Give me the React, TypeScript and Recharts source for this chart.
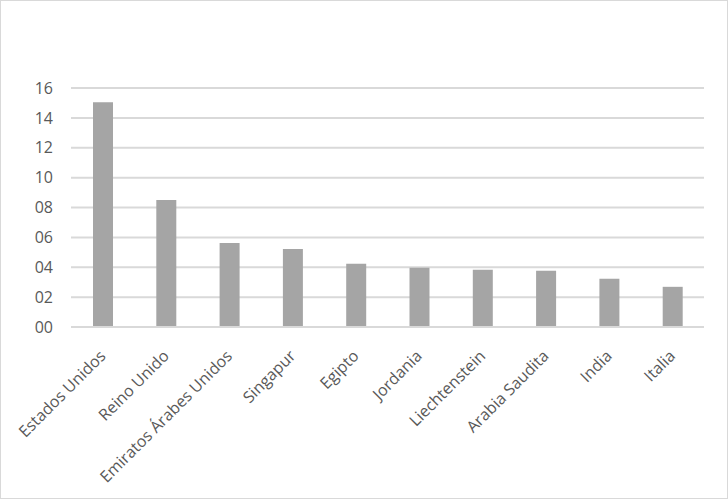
import { BarChart, Bar, XAxis, YAxis, CartesianGrid } from 'recharts'

const countries = [
  'Estados Unidos',
  'Reino Unido',
  'Emiratos Árabes Unidos',
  'Singapur',
  'Egipto',
  'Jordania',
  'Liechtenstein',
  'Arabia Saudita',
  'India',
  'Italia',
]

const values = [15.05, 8.51, 5.63, 5.23, 4.23, 3.96, 3.83, 3.76, 3.23, 2.69]

const yTicks = [0, 2, 4, 6, 8, 10, 12, 14, 16]

const chartData = countries.map((name, i) => ({ name, value: values[i] }))

const FONT = '"Open Sans", sans-serif'
const TEXT = '#595959'

// rotated category labels, anchored at their end like the spreadsheet ones
const CountryTick = ({ x, y, payload }: any) => (
  <g transform={`translate(${x + 4},${y + 22}) rotate(-45)`}>
    <text x={0} y={0} textAnchor="end" fill={TEXT} fontSize={16} fontFamily={FONT}>
      {payload.value}
    </text>
  </g>
)

export default function App() {
  return (
    <div
      style={{
        position: 'relative',
        width: 728,
        height: 499,
        outline: '1px solid #d9d9d9',
        outlineOffset: -1,
        background: '#fff',
      }}
    >
      <style>{`body { margin: 0; }`}</style>
      <BarChart
        width={728}
        height={499}
        data={chartData}
        margin={{ top: 88, right: 24, left: 0, bottom: 0 }}
        barCategoryGap="34%"
      >
        <CartesianGrid vertical={false} stroke="#d9d9d9" strokeWidth={2} />
        <XAxis
          dataKey="name"
          height={172}
          interval={0}
          axisLine={{ stroke: '#d9d9d9', strokeWidth: 2 }}
          tickLine={false}
          tick={<CountryTick />}
        />
        <YAxis
          width={71}
          domain={[0, 16]}
          ticks={yTicks}
          axisLine={false}
          tickLine={false}
          tickMargin={12}
          tickFormatter={(v: number) => String(v).padStart(2, '0')}
          tick={{ fill: TEXT, fontSize: 16, fontFamily: FONT }}
        />
        <Bar dataKey="value" fill="#a5a5a5" barSize={20} isAnimationActive={false} />
      </BarChart>
    </div>
  )
}
